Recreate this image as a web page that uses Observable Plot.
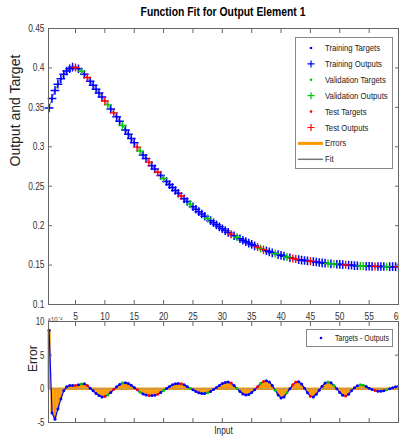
<!DOCTYPE html>
<html><head><meta charset="utf-8">
<script src="https://cdn.jsdelivr.net/npm/d3@7"></script>
<script src="https://cdn.jsdelivr.net/npm/@observablehq/plot@0.6"></script>
<style>
body{margin:0;background:#fff;}
#wrap{position:relative;width:399px;height:442px;overflow:hidden;background:#fff;font-family:"Liberation Sans",Arial,sans-serif;}
#title{position:absolute;left:48px;width:350px;top:5px;text-align:center;font-weight:bold;font-size:12.5px;color:#000;transform:scaleX(0.83);transform-origin:50% 50%;white-space:nowrap;}
.abs{position:absolute;left:0;}
</style></head><body>
<div id="wrap"><div id="title">Function Fit for Output Element 1</div></div>
<script>
// ---- data ----
const inputs = [0.5,1,1.5,2,2.5,3,3.5,4,4.5,5,5.5,6,6.5,7,7.5,8,8.5,9,9.5,10,
10.5,11,11.5,12,12.5,13,13.5,14,14.5,15,15.5,16,16.5,17,17.5,18,18.5,19,19.5,20,
20.5,21,21.5,22,22.5,23,23.5,24,24.5,25,25.5,26,26.5,27,27.5,28,28.5,29,29.5,30,
30.5,31,31.5,32,32.5,33,33.5,34,34.5,35,35.5,36,36.5,37,37.5,38,38.5,39,39.5,40,
40.5,41,41.5,42,42.5,43,43.5,44,44.5,45,45.5,46,46.5,47,47.5,48,48.5,49,49.5,50,
50.5,51,51.5,52,52.5,53,53.5,54,54.5,55,55.5,56,56.5,57,57.5,58,58.5,59,59.5,60];
const targets = [0.350,0.361,0.371,0.379,0.386,0.392,0.396,0.399,0.401,0.4005,
0.399,0.396,0.392,0.388,0.383,0.378,0.373,0.368,0.363,0.358,
0.353,0.348,0.343,0.338,0.3325,0.327,0.3215,0.316,0.3105,0.305,
0.2995,0.2945,0.2895,0.285,0.2805,0.276,0.2718,0.2676,0.2636,0.2598,
0.2559,0.2521,0.2484,0.2447,0.2411,0.2376,0.2341,0.2307,0.2273,0.2240,
0.2208,0.2177,0.2147,0.2118,0.2090,0.2063,0.2036,0.2010,0.1985,0.1961,
0.1938,0.1915,0.1893,0.1872,0.1852,0.1833,0.1814,0.1796,0.1778,0.1761,
0.1744,0.1728,0.1712,0.1697,0.1683,0.1669,0.1656,0.1643,0.1632,0.1622,
0.1612,0.1602,0.1593,0.1585,0.1577,0.1570,0.1564,0.1558,0.1553,0.1548,
0.1543,0.1538,0.1533,0.1529,0.1525,0.1521,0.1517,0.1514,0.1511,0.1508,
0.1505,0.1502,0.1499,0.1497,0.1494,0.1492,0.1490,0.1488,0.1486,0.1485,
0.1484,0.1483,0.1482,0.1481,0.1481,0.1480,0.1480,0.1480,0.1480,0.1480];
// errors (targets - outputs) in units of 1e-4
const errorsE4 = [8.7,-3.6,-4.5,-3.0,-1.5,-0.3,0.3,0.5,0.5,0.5,
0.6,0.7,0.75,0.5,0.1,-0.3,-0.7,-1.0,-1.2,-1.15,
-0.9,-0.55,-0.1,0.3,0.65,0.85,0.9,0.8,0.55,0.2,
-0.15,-0.5,-0.75,-0.9,-1.0,-1.0,-0.95,-0.8,-0.55,-0.25,
0.05,0.35,0.6,0.75,0.8,0.75,0.6,0.35,0.1,-0.15,
-0.4,-0.6,-0.7,-0.7,-0.6,-0.4,-0.1,0.2,0.5,0.8,
0.95,1.0,0.85,0.5,0.05,-0.4,-0.75,-0.9,-0.85,-0.55,
-0.15,0.3,0.8,1.1,1.2,1.0,0.5,-0.2,-0.9,-1.35,
-1.2,-0.6,0.0,0.6,1.0,1.05,0.7,0.1,-0.6,-1.1,
-1.2,-0.8,-0.2,0.4,0.85,1.0,0.9,0.5,0.0,-0.55,
-0.95,-1.05,-0.8,-0.3,0.15,0.45,0.6,0.55,0.35,0.1,
-0.1,-0.25,-0.35,-0.35,-0.3,-0.15,0.0,0.15,0.3,0.4];
const validationInputs = [6,10.5,13,16,20,24.5,27.5,32.5,36.5,39,41,48,49,53.5,54,58];
const testInputs = [5,7,10,11.5,15.5,17.5,19,23,31.5,36,37,42,42.5,45,51,56,60];
const xTicks = [5,10,15,20,25,30,35,40,45,50,55,60];
const yTicksTop = [0.1,0.15,0.2,0.25,0.3,0.35,0.4,0.45];
const yTicksErr = [-5,0,5,10];
const legendLabels = ["Training Targets","Training Outputs","Validation Targets","Validation Outputs","Test Targets","Test Outputs","Errors","Fit"];
const errLegendLabel = "Targets - Outputs";

// ---- build rows ----
const rows = inputs.map((x, i) => {
  const set = testInputs.includes(x) ? "test" : validationInputs.includes(x) ? "val" : "train";
  return {x, target: targets[i], err: errorsE4[i], output: targets[i] - errorsE4[i] * 1e-4, set};
});
const train = rows.filter(d => d.set === "train");
const val = rows.filter(d => d.set === "val");
const test = rows.filter(d => d.set === "test");

const BLUE = "#0000ff", GREEN = "#00c800", RED = "#ff0000", ORANGE = "#ff9900", AX = "#666";
const FONT = "'Liberation Sans',Arial,sans-serif";
const XDOM = [0.4, 60];

const topPlot = Plot.plot({
  width: 399, height: 320,
  marginTop: 28, marginBottom: 16, marginLeft: 48, marginRight: 1,
  x: {domain: XDOM}, y: {domain: [0.1, 0.45]},
  style: {fontFamily: FONT, fontSize: "10.5px", color: "#333", background: "transparent", overflow: "visible"},
  marks: [
    Plot.axisX({anchor: "bottom", ticks: xTicks, tickSize: -4, tickPadding: 12, label: null, stroke: AX, tickFormat: d => `${d}`}),
    Plot.axisX({anchor: "top", ticks: xTicks, tickSize: -4, label: null, stroke: AX, tickFormat: () => ""}),
    Plot.axisY({anchor: "left", ticks: yTicksTop, tickSize: -4, tickPadding: 8, label: null, stroke: AX, tickFormat: d => `${d}`}),
    Plot.axisY({anchor: "right", ticks: yTicksTop, tickSize: -4, label: null, stroke: AX, tickFormat: () => ""}),
    Plot.line(rows, {x: "x", y: "output", stroke: "#808080", strokeWidth: 1}),
    Plot.ruleX(rows, {x: "x", y1: "target", y2: "output", stroke: ORANGE, strokeWidth: 2}),
    Plot.dot(train, {x: "x", y: "target", r: 1, fill: BLUE}),
    Plot.dot(train, {x: "x", y: "output", symbol: "plus", r: 2.9, stroke: BLUE, strokeWidth: 1.5}),
    Plot.dot(val, {x: "x", y: "target", r: 1, fill: GREEN}),
    Plot.dot(val, {x: "x", y: "output", symbol: "plus", r: 2.7, stroke: GREEN, strokeWidth: 1.4}),
    Plot.dot(test, {x: "x", y: "target", r: 1, fill: RED}),
    Plot.dot(test, {x: "x", y: "output", symbol: "plus", r: 2.7, stroke: RED, strokeWidth: 1.4}),
    Plot.frame({stroke: AX}),
    Plot.text(["Output and Target"], {frameAnchor: "left", dx: -33, rotate: -90, fontSize: 14, fill: "#222"})
  ]
});
topPlot.classList.add("abs");
topPlot.style.top = "0px";

const errPlot = Plot.plot({
  width: 399, height: 122,
  marginTop: 1, marginBottom: 20, marginLeft: 48, marginRight: 1,
  x: {domain: XDOM}, y: {domain: [-5, 10]},
  style: {fontFamily: FONT, fontSize: "10.5px", color: "#333", background: "transparent", overflow: "visible"},
  marks: [
    Plot.axisX({anchor: "bottom", ticks: xTicks, tickSize: -4, label: null, stroke: AX, tickFormat: () => ""}),
    Plot.axisX({anchor: "top", ticks: xTicks, tickSize: -4, label: null, stroke: AX, tickFormat: () => ""}),
    Plot.axisY({anchor: "left", ticks: yTicksErr, tickSize: -4, tickPadding: 8, label: null, stroke: AX, tickFormat: d => `${d}`}),
    Plot.axisY({anchor: "right", ticks: yTicksErr, tickSize: -4, label: null, stroke: AX, tickFormat: () => ""}),
    Plot.ruleX(rows, {x: "x", y1: 0, y2: "err", stroke: ORANGE, strokeWidth: 3.2}),
    Plot.ruleY([0], {stroke: ORANGE, strokeWidth: 2.5}),
    Plot.ruleY([0], {stroke: "#999", strokeWidth: 0.8}),
    Plot.line(rows, {x: "x", y: "err", stroke: BLUE, strokeWidth: 1.2}),
    Plot.dot(train, {x: "x", y: "err", r: 1.5, fill: BLUE}),
    Plot.dot(val, {x: "x", y: "err", r: 1.5, fill: GREEN}),
    Plot.dot(test, {x: "x", y: "err", r: 1.5, fill: RED}),
    Plot.frame({stroke: AX}),
    Plot.text(["Error"], {frameAnchor: "left", dx: -15, rotate: -90, fontSize: 12, fill: "#222"}),
    Plot.text(["Input"], {frameAnchor: "bottom", dy: 11, fontSize: 11, fill: "#222"}),
    Plot.text(["×10⁻⁴"], {frameAnchor: "top-left", dy: -5, dx: -1, fontSize: 8, fill: "#444"})
  ]
});
errPlot.classList.add("abs");
errPlot.style.top = "320px";

const wrap = document.getElementById("wrap");
wrap.appendChild(topPlot);
wrap.appendChild(errPlot);

// ---- legends ----
function addLegend(left, top, w, h, items, rowH, y0, fs) {
  const svg = d3.create("svg").attr("width", w).attr("height", h)
    .style("position", "absolute").style("left", left + "px").style("top", top + "px")
    .style("overflow", "visible");
  svg.append("rect").attr("x", 0.5).attr("y", 0.5).attr("width", w - 1).attr("height", h - 1)
    .attr("fill", "#fff").attr("stroke", "#888");
  items.forEach((it, i) => {
    const y = y0 + i * rowH;
    const g = svg.append("g");
    if (it.kind === "dot") g.append("circle").attr("cx", it.sx).attr("cy", y).attr("r", 1.3).attr("fill", it.color);
    if (it.kind === "plus") g.append("path").attr("d", `M${it.sx-3.5},${y}H${it.sx+3.5}M${it.sx},${y-3.5}V${y+3.5}`).attr("stroke", it.color).attr("stroke-width", 1.2);
    if (it.kind === "line") g.append("line").attr("x1", 3).attr("x2", 28).attr("y1", y).attr("y2", y).attr("stroke", it.color).attr("stroke-width", it.sw);
    g.append("text").attr("x", it.tx).attr("y", y).attr("dy", "0.35em").attr("font-family", FONT)
      .attr("font-size", fs).attr("fill", "#222").text(it.label);
  });
  wrap.appendChild(svg.node());
  return svg.node();
}
const kinds = [["dot", BLUE], ["plus", BLUE], ["dot", GREEN], ["plus", GREEN], ["dot", RED], ["plus", RED], ["line", ORANGE, 3], ["line", "#777", 1.5]];
const leg1 = addLegend(295, 37, 98, 132, legendLabels.map((label, i) => ({label, kind: kinds[i][0], color: kinds[i][1], sw: kinds[i][2], sx: 16, tx: 30})), 15.9, 11, 8.8);
const leg2 = addLegend(306, 329, 87, 18, [{label: errLegendLabel, kind: "dot", color: BLUE, sx: 15, tx: 29}], 0, 9, 8.2);

// ---- condense horizontal texts (the reference is rendered with a narrow face) ----
function squeeze(root, factor) {
  root.querySelectorAll("text").forEach(t => {
    const tr = t.getAttribute("transform") || "";
    if (tr.includes("rotate")) return;
    const L = t.getComputedTextLength();
    if (L > 0) {
      t.setAttribute("textLength", (L * factor).toFixed(2));
      t.setAttribute("lengthAdjust", "spacingAndGlyphs");
    }
  });
}
squeeze(topPlot, 0.8);
squeeze(errPlot, 0.75);
squeeze(leg1, 0.88);
squeeze(leg2, 0.86);
</script>
</body></html>
